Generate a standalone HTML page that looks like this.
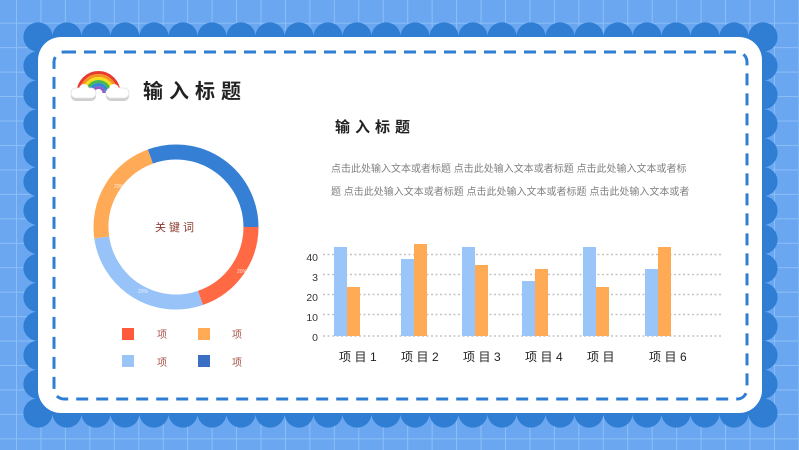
<!DOCTYPE html>
<html><head><meta charset="utf-8">
<style>
html,body{margin:0;padding:0;width:799px;height:450px;overflow:hidden;background:#6aa7f0;}
svg{display:block;}
text{font-family:"Liberation Sans","Noto Sans CJK SC",sans-serif;}
</style></head>
<body>
<svg width="799" height="450" viewBox="0 0 799 450" xmlns="http://www.w3.org/2000/svg">
<defs>
<pattern id="grid" patternUnits="userSpaceOnUse" x="16" y="22.7" width="24.45" height="24.45">
<rect x="0" y="0" width="1" height="24.45" fill="#8cbef7"/>
<rect x="0" y="0" width="24.45" height="1" fill="#8cbef7"/>
</pattern>
</defs>
<rect width="799" height="450" fill="#6aa7f0"/>
<rect width="799" height="450" fill="url(#grid)"/>

<!-- scallop frame -->
<g fill="#2f7ed3">
<rect x="38" y="37" width="725" height="376"/>
<g id="toprow">
<circle cx="38" cy="37" r="14.6"/><circle cx="67" cy="37" r="14.6"/><circle cx="96" cy="37" r="14.6"/><circle cx="125" cy="37" r="14.6"/><circle cx="154" cy="37" r="14.6"/><circle cx="183" cy="37" r="14.6"/><circle cx="212" cy="37" r="14.6"/><circle cx="241" cy="37" r="14.6"/><circle cx="270" cy="37" r="14.6"/><circle cx="299" cy="37" r="14.6"/><circle cx="328" cy="37" r="14.6"/><circle cx="357" cy="37" r="14.6"/><circle cx="386" cy="37" r="14.6"/><circle cx="415" cy="37" r="14.6"/><circle cx="444" cy="37" r="14.6"/><circle cx="473" cy="37" r="14.6"/><circle cx="502" cy="37" r="14.6"/><circle cx="531" cy="37" r="14.6"/><circle cx="560" cy="37" r="14.6"/><circle cx="589" cy="37" r="14.6"/><circle cx="618" cy="37" r="14.6"/><circle cx="647" cy="37" r="14.6"/><circle cx="676" cy="37" r="14.6"/><circle cx="705" cy="37" r="14.6"/><circle cx="734" cy="37" r="14.6"/><circle cx="763" cy="37" r="14.6"/>
</g>
<use href="#toprow" y="376"/>
<g id="leftcol">
<circle cx="38" cy="65.9" r="14.6"/><circle cx="38" cy="94.8" r="14.6"/><circle cx="38" cy="123.8" r="14.6"/><circle cx="38" cy="152.7" r="14.6"/><circle cx="38" cy="181.6" r="14.6"/><circle cx="38" cy="210.5" r="14.6"/><circle cx="38" cy="239.5" r="14.6"/><circle cx="38" cy="268.4" r="14.6"/><circle cx="38" cy="297.3" r="14.6"/><circle cx="38" cy="326.2" r="14.6"/><circle cx="38" cy="355.2" r="14.6"/><circle cx="38" cy="384.1" r="14.6"/>
</g>
<use href="#leftcol" x="725"/>
</g>

<!-- white card -->
<rect x="38" y="37" width="724" height="376" rx="23" ry="23" fill="#ffffff"/>
<rect x="54" y="52" width="693" height="347" rx="10" ry="10" fill="none" stroke="#2f7ed3" stroke-width="3" stroke-dasharray="12 8"/>

<!-- rainbow icon -->
<g fill="none" stroke-width="3">
<path d="M78 93 A20.5 20.5 0 0 1 119 93" stroke="#e63b2e"/>
<path d="M81 93 A17.5 17.5 0 0 1 116 93" stroke="#f6931e"/>
<path d="M84 93 A14.5 14.5 0 0 1 113 93" stroke="#f3df1c"/>
<path d="M87 93 A11.5 11.5 0 0 1 110 93" stroke="#4bb649"/>
<path d="M90 93 A8.5 8.5 0 0 1 107 93" stroke="#2e8ad8"/>
<path d="M93 93 A5.5 5.5 0 0 1 104 93" stroke="#8f5dc7"/>
</g>
<g>
<rect x="71" y="90" width="25" height="11" rx="5" fill="#cfcfcf"/>
<rect x="71" y="88" width="25" height="10" rx="5" fill="#ffffff" stroke="#e3e3e3" stroke-width="0.8"/>
<circle cx="84" cy="89" r="5" fill="#ffffff"/>
<rect x="106" y="90" width="23" height="11" rx="5" fill="#cfcfcf"/>
<rect x="106" y="88" width="23" height="10" rx="5" fill="#ffffff" stroke="#e3e3e3" stroke-width="0.8"/>
<circle cx="114" cy="89" r="5" fill="#ffffff"/>
</g>

<!-- main title -->
<text x="143" y="98" font-size="20" font-weight="700" fill="#222" letter-spacing="6" style="font-family:'Noto Sans CJK SC',sans-serif">输入标题</text>

<!-- donut -->
<g fill="none" stroke-width="15">
<path d="M150.35 156.52 A75 75 0 0 1 251 227" stroke="#3580d4"/>
<path d="M251 227 A75 75 0 0 1 200.42 297.91" stroke="#ff6a45"/>
<path d="M200.42 297.91 A75 75 0 0 1 101.73 237.44" stroke="#98c3f8"/>
<path d="M101.73 237.44 A75 75 0 0 1 150.35 156.52" stroke="#ffaa56"/>
</g>
<g font-size="5" fill="#ffffff" opacity="0.8">
<text x="114" y="188">20%</text>
<text x="237" y="273">20%</text>
<text x="138" y="293">20%</text>
</g>
<text x="176" y="231" font-size="11" fill="#8c3b2c" text-anchor="middle" letter-spacing="3" style="font-family:'Noto Sans CJK SC',sans-serif">关键词</text>

<!-- legend -->
<rect x="122" y="328" width="12" height="12" fill="#ff5a3a"/>
<rect x="198" y="328" width="12" height="12" fill="#ffaa55"/>
<rect x="122" y="355" width="12" height="12" fill="#9cc5f7"/>
<rect x="198" y="355" width="12" height="12" fill="#3a6fc4"/>
<g font-size="10" fill="#a8564a" style="font-family:'Noto Sans CJK SC',sans-serif">
<text x="157" y="338">项</text>
<text x="232" y="338">项</text>
<text x="157" y="366">项</text>
<text x="232" y="366">项</text>
</g>

<!-- title 2 & paragraph -->
<text x="335" y="132" font-size="15" font-weight="700" fill="#222" letter-spacing="5" style="font-family:'Noto Sans CJK SC',sans-serif">输入标题</text>
<g font-size="10" fill="#808080" style="font-family:'Noto Sans CJK SC',sans-serif">
<text x="331" y="172">点击此处输入文本或者标题 点击此处输入文本或者标题 点击此处输入文本或者标</text>
<text x="331" y="195">题 点击此处输入文本或者标题 点击此处输入文本或者标题 点击此处输入文本或者</text>
</g>

<!-- bar chart gridlines -->
<g stroke="#c4c4c4" stroke-width="1.5" stroke-dasharray="2 2.5">
<line x1="323" y1="254.5" x2="722" y2="254.5"/>
<line x1="323" y1="274.5" x2="722" y2="274.5"/>
<line x1="323" y1="294.5" x2="722" y2="294.5"/>
<line x1="323" y1="314.5" x2="722" y2="314.5"/>
<line x1="323" y1="336" x2="722" y2="336"/>
</g>
<g font-size="10.5" fill="#333" text-anchor="end">
<text x="318" y="261">40</text>
<text x="318" y="281">3</text>
<text x="318" y="301">20</text>
<text x="318" y="321">10</text>
<text x="318" y="341">0</text>
</g>
<!-- bars -->
<g fill="#9ac5f8">
<rect x="334" y="247" width="13" height="89"/>
<rect x="401" y="259" width="13" height="77"/>
<rect x="462" y="247" width="13" height="89"/>
<rect x="522" y="281" width="13" height="55"/>
<rect x="583" y="247" width="13" height="89"/>
<rect x="645" y="269" width="13" height="67"/>
</g>
<g fill="#ffab56">
<rect x="347" y="287" width="13" height="49"/>
<rect x="414" y="244" width="13" height="92"/>
<rect x="475" y="265" width="13" height="71"/>
<rect x="535" y="269" width="13" height="67"/>
<rect x="596" y="287" width="13" height="49"/>
<rect x="658" y="247" width="13" height="89"/>
</g>
<g font-size="12" fill="#222" letter-spacing="3.5" style="font-family:'Noto Sans CJK SC','Liberation Sans',sans-serif">
<text x="339" y="361">项目1</text>
<text x="401" y="361">项目2</text>
<text x="463" y="361">项目3</text>
<text x="525" y="361">项目4</text>
<text x="587" y="361">项目</text>
<text x="649" y="361">项目6</text>
</g>
</svg>
</body></html>
